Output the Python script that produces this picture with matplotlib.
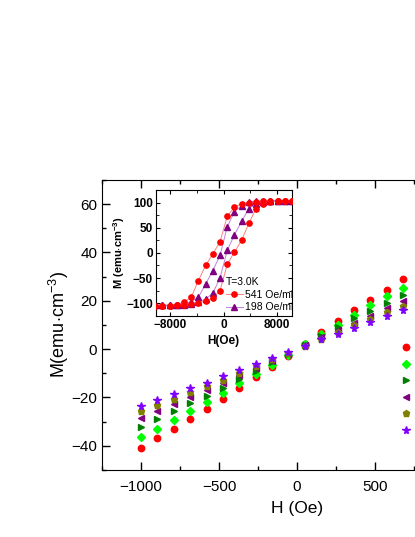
import numpy as np
import matplotlib
matplotlib.use("Agg")
import matplotlib.pyplot as plt
from matplotlib.ticker import MultipleLocator, FixedLocator
from matplotlib.lines import Line2D

plt.rcParams['font.family'] = ['Liberation Sans', 'DejaVu Sans']
plt.rcParams['mathtext.fontset'] = 'custom'
plt.rcParams['mathtext.rm'] = 'Liberation Sans'
plt.rcParams['mathtext.bf'] = 'Liberation Sans:bold'

# main panel: M vs H at low field for six sweep conditions
H = [-1000, -895, -790, -685, -580, -475, -370, -265, -160, -55,
     50, 155, 260, 365, 470, 575, 680]
M_red = [-40.7, -36.7, -33.0, -28.8, -24.7, -20.6, -16.1, -11.7, -7.4, -3.0,
         2.3, 6.9, 11.6, 16.0, 20.3, 24.6, 28.9]
M_lime = [-36.3, -33.0, -29.4, -25.5, -21.8, -18.1, -14.2, -10.3, -6.4, -2.6,
          2.1, 6.2, 10.2, 14.1, 18.1, 21.8, 25.5]
M_dgreen = [-32.1, -29.0, -25.7, -22.3, -19.2, -15.9, -12.4, -9.0, -5.5, -2.2,
            1.9, 5.5, 9.2, 12.7, 15.7, 19.0, 22.4]
M_purple = [-28.3, -25.7, -22.8, -19.9, -17.1, -14.2, -10.9, -7.9, -4.8, -1.9,
            1.7, 4.9, 7.9, 10.9, 13.7, 17.0, 19.9]
M_olive = [-25.5, -23.2, -20.6, -17.9, -15.3, -12.7, -9.7, -6.9, -4.2, -1.6,
           1.5, 4.4, 7.2, 9.9, 12.4, 15.3, 17.8]
M_violet = [-23.4, -21.1, -18.5, -16.1, -13.8, -11.2, -8.7, -6.2, -3.6, -1.3,
            1.4, 4.0, 6.2, 8.7, 11.3, 13.7, 16.1]
xtick_vals = [-1000, -500, 0, 500]

# inset: full hysteresis loops
H_in = [-10200, -9130, -8060, -6990, -5910, -4840, -3760, -2690, -1610, -540,
        540, 1610, 2690, 3760, 4840, 5910, 6990, 8060, 9130, 10200]
red_up = [-105, -105, -105, -104, -103, -101, -99, -96, -90, -75,
          -23, 2, 25, 59, 88, 98, 102, 104, 104, 104]
red_down = [-105, -105, -105, -103, -98, -88, -55, -25, -2, 22,
            73, 91, 98, 100, 102, 103, 104, 104, 104, 104]
pur_up = [-104, -104, -104, -104, -103, -101, -97, -92, -80, -50,
          5, 36, 63, 88, 98, 102, 103, 104, 104, 104]
pur_down = [-104, -104, -104, -103, -101, -97, -88, -62, -35, -5,
            52, 82, 94, 101, 103, 103, 104, 104, 104, 104]

fig = plt.figure(figsize=(4.15, 5.37), dpi=100)
ax = fig.add_axes([0.2458, 0.1248, 0.94, 0.54])

styles = [(M_red, 'o', '#ff0000', 4.6),
          (M_lime, 'D', '#00ff00', 4.0),
          (M_dgreen, '>', '#008000', 4.8),
          (M_purple, '<', '#800080', 4.8),
          (M_olive, 'p', '#808000', 4.8),
          (M_violet, '*', '#8000ff', 5.8)]
handles = []
for m, mk, c, s in styles:
    ln, = ax.plot(H, m, linestyle='none', marker=mk, color=c, ms=s, mec=c)
    handles.append(ln)

ax.set_xlim(-1250, 1250)
ax.set_ylim(-50, 70)
ax.xaxis.set_major_locator(FixedLocator(xtick_vals))
ax.xaxis.set_minor_locator(MultipleLocator(250))
ax.yaxis.set_major_locator(MultipleLocator(20))
ax.yaxis.set_minor_locator(MultipleLocator(10))
ax.tick_params(which='both', direction='in', top=True, right=True, labelsize=11)
ax.tick_params(which='major', length=6, width=1)
ax.tick_params(which='minor', length=3, width=1)
ax.tick_params(axis='x', pad=7)
ax.set_xlabel('H (Oe)', fontsize=12.5, labelpad=5)
ax.set_ylabel(r'M(emu$\cdot$cm$^{-3}$)', fontsize=13, labelpad=0)
# legend text lies beyond the cropped right edge in the reference
ax.legend(handles, [''] * len(handles), loc='upper left',
          bbox_to_anchor=(0.7615, 0.445), frameon=False,
          borderaxespad=0, borderpad=0, handlelength=1, handletextpad=0.5,
          labelspacing=0.18, fontsize=10)

# inset
axi = fig.add_axes([0.375, 0.412, 0.3277, 0.234])
axi.set_facecolor('white')
axi.plot(H_in, red_down, color='#ff8080', lw=0.7, zorder=1)
axi.plot(H_in, red_up, color='#ff8080', lw=0.7, zorder=1)
axi.plot(H_in, pur_down, color='#c080e0', lw=0.7, zorder=1)
axi.plot(H_in, pur_up, color='#c080e0', lw=0.7, zorder=1)
axi.plot(H_in, red_down, 'o', color='#ff0000', ms=3.8, zorder=3)
axi.plot(H_in, red_up, 'o', color='#ff0000', ms=3.8, zorder=3)
axi.plot(H_in, pur_down, '^', color='#800080', ms=3.8, zorder=2)
axi.plot(H_in, pur_up, '^', color='#800080', ms=3.8, zorder=2)
hnd = [Line2D([], [], color='#ff8080', lw=0.7, marker='o', mfc='#ff0000',
              mec='#ff0000', ms=3.8),
       Line2D([], [], color='#c080e0', lw=0.7, marker='^', mfc='#800080',
              mec='#800080', ms=3.8)]
leg = axi.legend(hnd, ['541 Oe/min', '198 Oe/min'], title='T=3.0K',
                 loc='lower left', bbox_to_anchor=(0.465, -0.03), frameon=False,
                 fontsize=7.5, title_fontsize=7.5, borderpad=0.2,
                 handlelength=1.6, handletextpad=0.2, labelspacing=0.25)
leg._legend_box.align = 'left'
for t in leg.get_texts():
    t.set_clip_box(axi.bbox)
    t.set_clip_on(True)
axi.set_xlim(-10150, 10150)
axi.set_ylim(-125, 125)
axi.xaxis.set_major_locator(MultipleLocator(8000))
axi.xaxis.set_minor_locator(MultipleLocator(4000))
axi.yaxis.set_major_locator(MultipleLocator(50))
axi.yaxis.set_minor_locator(MultipleLocator(25))
axi.tick_params(which='both', direction='in', top=True, right=True,
                labelsize=8.5, pad=2)
axi.tick_params(which='major', length=3)
axi.tick_params(which='minor', length=2)
for lbl in axi.get_xticklabels() + axi.get_yticklabels():
    lbl.set_fontweight('bold')
axi.set_xlabel('H(Oe)', fontsize=8.5, fontweight='bold', labelpad=3)
axi.set_ylabel(r'M (emu$\cdot$cm$^{\mathbf{-3}}$)', fontsize=8,
               fontweight='bold', labelpad=-1)

fig.savefig('out.png', dpi=100)
